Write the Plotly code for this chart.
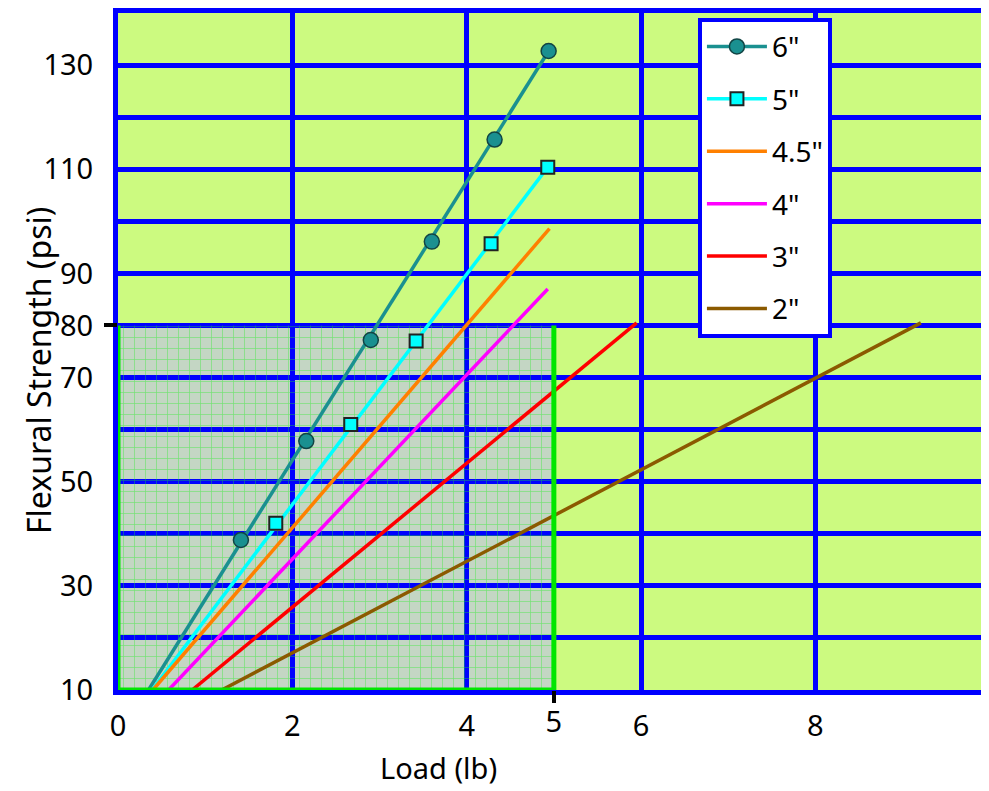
import plotly.graph_objects as go

# ---- data ----
load_6 = [1.41, 2.16, 2.90, 3.60, 4.32, 4.94]
strength_6 = [38.8, 57.8, 77.2, 96.1, 115.7, 132.7]
load_5 = [1.81, 2.67, 3.42, 4.28, 4.93]
strength_5 = [42.0, 61.0, 77.0, 95.7, 110.4]

fit_6_load = [0.35, 4.94]
fit_6_strength = [10, 132.7]
fit_5_load = [0.39, 4.93]
fit_5_strength = [10, 110.4]
fit_45_load = [0.40, 4.95]
fit_45_strength = [10, 98.6]
fit_4_load = [0.58, 4.93]
fit_4_strength = [10, 87.0]
fit_3_load = [0.85, 5.95]
fit_3_strength = [10, 80.5]
fit_2_load = [1.19, 9.21]
fit_2_strength = [10, 80.5]

limit_load = 5
limit_strength = 80
base_strength = 10

x_tick_vals = [0, 2, 4, 6, 8]
x_tick_text = ["0", "2", "4", "6", "8"]
y_tick_vals = [10, 20, 30, 40, 50, 60, 70, 80, 90, 100, 110, 120, 130, 140]
y_tick_text = ["10", "", "30", "", "50", "", "70", "80", "90", "", "110", "", "130", ""]

BLUE = "#0000FF"
GREEN_BG = "#CCFA80"
GREEN_LINE = "#00E600"
FONT = "Noto Sans"
C6, C5, C45, C4, C3, C2 = "#1A9090", "#00FFFF", "#FF8000", "#FF00FF", "#FF0000", "#8B5A00"

fig = go.Figure()

# dotted pattern over the highlighted region
fig.add_trace(go.Scatter(
    x=[0, limit_load, limit_load, 0, 0],
    y=[base_strength, base_strength, limit_strength, limit_strength, base_strength],
    mode="none", fill="toself", fillcolor="rgba(0,0,0,0)",
    fillpattern=dict(shape="+", fgcolor="#22EE22", bgcolor="rgba(0,0,0,0)",
                     size=11, solidity=0.12),
    showlegend=False, hoverinfo="skip"))

m6 = dict(symbol="circle", size=15, color=C6, line=dict(color="#114444", width=1.5))
m5 = dict(symbol="square", size=13, color=C5, line=dict(color="#222222", width=2))

# legend entries for the marker series
fig.add_trace(go.Scatter(x=[None], y=[None], mode="lines+markers", name="6\"",
                         legendgroup="g6", legendrank=1,
                         line=dict(color=C6, width=3.5), marker=m6))
fig.add_trace(go.Scatter(x=[None], y=[None], mode="lines+markers", name="5\"",
                         legendgroup="g5", legendrank=2,
                         line=dict(color=C5, width=3.5), marker=m5))

series = [
    ("6\"", "g6", C6, fit_6_load, fit_6_strength, False, 1),
    ("5\"", "g5", C5, fit_5_load, fit_5_strength, False, 2),
    ("4.5\"", "g45", C45, fit_45_load, fit_45_strength, True, 3),
    ("4\"", "g4", C4, fit_4_load, fit_4_strength, True, 4),
    ("3\"", "g3", C3, fit_3_load, fit_3_strength, True, 5),
    ("2\"", "g2", C2, fit_2_load, fit_2_strength, True, 6),
]
for name, grp, color, xs, ys, show, rank in series:
    fig.add_trace(go.Scatter(x=xs, y=ys, mode="lines",
                             line=dict(color=color, width=3.5),
                             name=name, legendgroup=grp, legendrank=rank,
                             showlegend=show))

fig.add_trace(go.Scatter(x=load_6, y=strength_6, mode="markers", marker=m6,
                         showlegend=False, legendgroup="g6", name="6\""))
fig.add_trace(go.Scatter(x=load_5, y=strength_5, mode="markers", marker=m5,
                         showlegend=False, legendgroup="g5", name="5\""))

# gray region below the grid
fig.add_shape(type="rect", x0=0, x1=limit_load, y0=base_strength, y1=limit_strength,
              xref="x", yref="y", fillcolor="#C4D6C4", line=dict(width=0), layer="below")
# green borders
fig.add_shape(type="line", x0=0, x1=limit_load, y0=base_strength, y1=base_strength,
              line=dict(color=GREEN_LINE, width=5), layer="above")
fig.add_shape(type="line", x0=0, x1=0, y0=base_strength, y1=limit_strength,
              line=dict(color=GREEN_LINE, width=5), layer="above")
fig.add_shape(type="line", x0=limit_load, x1=limit_load, y0=base_strength, y1=limit_strength,
              line=dict(color=GREEN_LINE, width=5), layer="above")

X_RANGE = [0, 9.9]
Y_RANGE = [10, 140]

fig.update_layout(
    width=973, height=783,
    margin=dict(l=110, r=0, t=0, b=101),
    paper_bgcolor="white", plot_bgcolor=GREEN_BG,
    font=dict(family=FONT, size=28, color="black"),
    xaxis=dict(range=X_RANGE, tickvals=x_tick_vals, ticktext=x_tick_text,
               showgrid=True, gridcolor=BLUE, gridwidth=5, zeroline=False,
               showline=True, linecolor=BLUE, linewidth=5, mirror=True,
               ticks="", ticklabelstandoff=6, tickfont=dict(size=29)),
    yaxis=dict(range=Y_RANGE, tickvals=y_tick_vals, ticktext=y_tick_text,
               showgrid=True, gridcolor=BLUE, gridwidth=5, zeroline=False,
               showline=True, linecolor=BLUE, linewidth=5, mirror=False,
               ticks="", ticklabelstandoff=14, tickfont=dict(size=29)),
    xaxis2=dict(range=X_RANGE, overlaying="x", anchor="y", side="bottom",
                tickvals=[limit_load], ticktext=["5"], ticks="outside",
                tickcolor="black", tickwidth=4, ticklen=12,
                showgrid=False, zeroline=False, showline=False,
                ticklabelstandoff=-6, tickfont=dict(size=29)),
    yaxis2=dict(range=Y_RANGE, overlaying="y", anchor="x", side="left",
                tickvals=[limit_strength], ticks="outside", tickcolor="black",
                tickwidth=4, ticklen=13, showticklabels=False,
                showgrid=False, zeroline=False, showline=False),
    legend=dict(x=0.672, y=0.993, xanchor="left", yanchor="top",
                bgcolor="white", bordercolor=BLUE, borderwidth=4,
                font=dict(size=28), traceorder="grouped",
                tracegroupgap=13, itemwidth=60),
    annotations=[
        dict(text="Load (lb)", xref="paper", yref="paper", x=0.371, y=-0.115,
             xanchor="center", yanchor="middle", showarrow=False,
             font=dict(size=29)),
        dict(text="Flexural Strength (psi)", xref="paper", yref="paper",
             x=-0.092, y=0.472, textangle=-90, xanchor="center", yanchor="middle",
             showarrow=False, font=dict(size=32)),
    ],
)

# invisible helper so the overlay axes with the special ticks are drawn
fig.add_trace(go.Scatter(x=[None], y=[None], xaxis="x2", yaxis="y2",
                         showlegend=False, hoverinfo="skip"))

fig.write_html("out.html")
